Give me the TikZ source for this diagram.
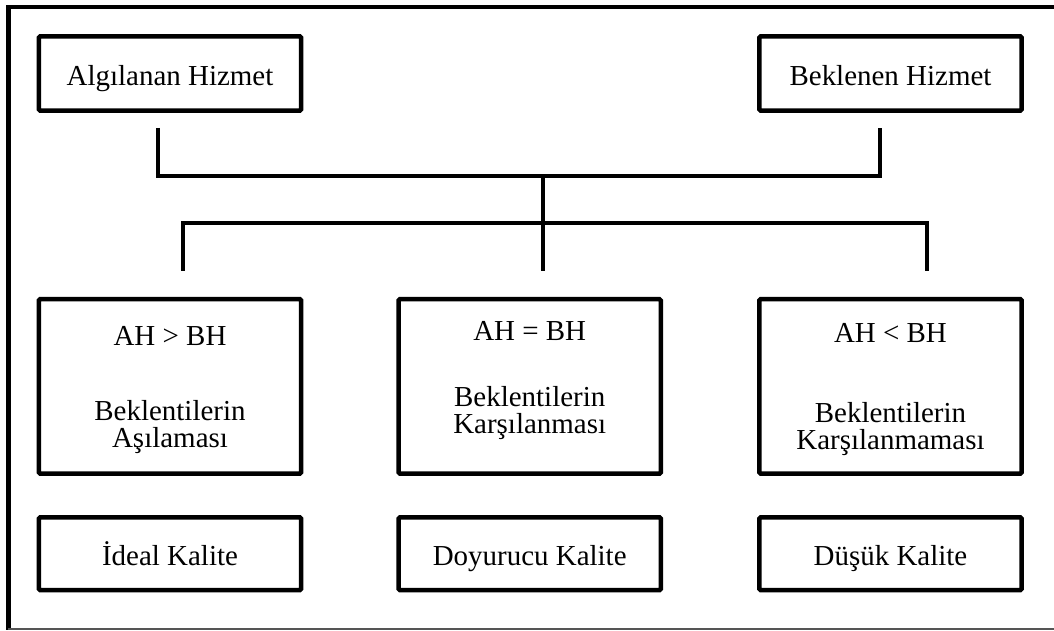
\documentclass[tikz,border=0pt]{standalone}
\usepackage{fontspec}
\setmainfont{Liberation Serif}
\usetikzlibrary{positioning,calc}
\definecolor{kaliteBlack}{RGB}{0,0,0}
\definecolor{kaliteGray}{RGB}{85,85,85}
\newcommand{\toppad}{\rule{0pt}{0.9em}}
\newcommand{\bottompad}{\rule[-0.6em]{0pt}{0.6em}}

\begin{document}
\begin{tikzpicture}[
  qualitybox/.style={
    draw=kaliteBlack,
    line width=3.2pt,
    rounded corners=1pt,
    minimum width=6.56cm,
    inner sep=0pt,
    align=center,
    font=\fontsize{20.6pt}{19.2pt}\selectfont
  },
  servicebox/.style={qualitybox,minimum height=1.86cm,text height=18pt,text depth=1pt},
  conditionbox/.style={qualitybox,minimum height=4.36cm},
  resultbox/.style={qualitybox,minimum height=1.82cm,text height=18pt,text depth=1pt},
  link/.style={kaliteBlack,line width=3.2pt},
  outerline/.style={kaliteBlack,line width=3.2pt}
]
  \useasboundingbox (0,0) rectangle (26.35,-15.775);
  % page frame, open on the right
  \draw[outerline] (26.35,-0.17) -- (0.2125,-0.17) -- (0.2125,-15.74);
  \draw[kaliteGray,line width=0.9pt] (0.2125,-15.725) -- (26.35,-15.725);

  \node[servicebox] (algilanan) at (4.25,-1.8375) {Algılanan Hizmet};
  \node[servicebox,right=11.34cm of algilanan] (beklenen) {Beklenen Hizmet};

  \node[conditionbox,below=4.6cm of algilanan] (asilma) {\toppad AH > BH\\[1.2cm]Beklentilerin\\Aşılaması};
  \node[conditionbox,right=2.32cm of asilma] (karsilanma) {AH = BH\\[0.975cm]Beklentilerin\\Karşılanması\bottompad};
  \node[conditionbox,below=4.6cm of beklenen] (karsilanmama) {\toppad AH < BH\\[1.325cm]Beklentilerin\\Karşılanmaması};

  \node[resultbox,below=0.98cm of asilma] (ideal) {İdeal Kalite};
  \node[resultbox,below=0.98cm of karsilanma] (doyurucu) {Doyurucu Kalite};
  \node[resultbox,below=0.98cm of karsilanmama] (dusuk) {Düşük Kalite};

  \coordinate (algilanan-foot) at ($(algilanan.south)+(-0.3,-0.375)$);
  \coordinate (beklenen-foot) at ($(beklenen.south)+(-0.26,-0.375)$);
  \coordinate (hub) at ($(karsilanma.north)+(0.335,3.025)$);
  \coordinate (karsilanma-top) at ($(karsilanma.north)+(0.335,0.65)$);
  \coordinate (asilma-top) at ($(asilma.north)+(0.325,0.65)$);
  \coordinate (karsilanmama-top) at ($(karsilanmama.north)+(0.915,0.65)$);

  \draw[link] (algilanan-foot) -- ++(0,-1.2) -| (beklenen-foot);
  \draw[link] (hub) -- (karsilanma-top);
  \draw[link] (asilma-top) -- ++(0,1.2) -| (karsilanmama-top);
\end{tikzpicture}
\end{document}
